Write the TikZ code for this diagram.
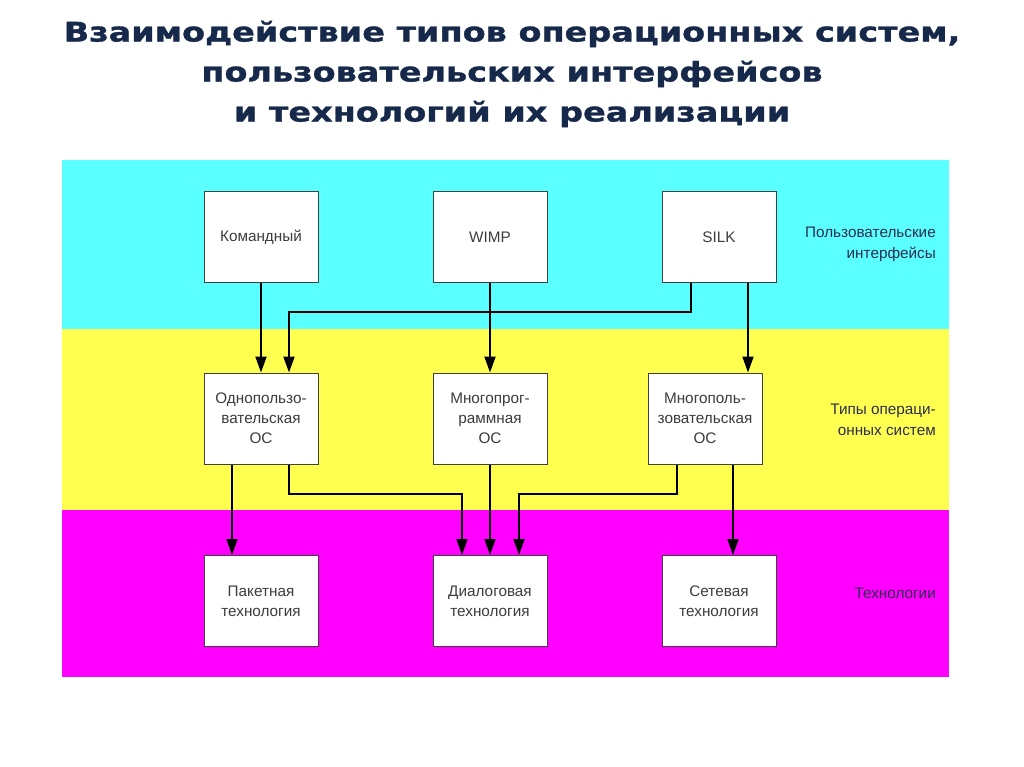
\documentclass[tikz,border=0pt]{standalone}
\usepackage{fontspec}
\setmainfont{Liberation Sans}
\newfontfamily\titlefont[FakeStretch=1.24,FakeBold=1.2]{DejaVu Sans}
\usetikzlibrary{arrows.meta}
\definecolor{uicyan}{RGB}{90,255,255}
\definecolor{osyellow}{RGB}{255,255,80}
\definecolor{techpink}{RGB}{255,0,255}
\definecolor{titleblue}{RGB}{23,41,74}
\definecolor{boxtext}{RGB}{60,60,60}
\definecolor{sidetext}{RGB}{45,45,80}
\begin{document}
\begin{tikzpicture}[x=1pt,y=-1pt,
  box/.style={draw=black!75,line width=1pt,fill=white,
    minimum width=114pt,minimum height=91pt,inner sep=2pt,
    align=center,text=boxtext,font=\fontsize{15.3}{20}\selectfont},
  side/.style={anchor=east,align=right,text=sidetext,inner sep=0pt,
    font=\fontsize{15.3}{21}\selectfont},
  arr/.style={line width=2pt,-{Triangle[length=16pt,width=11pt]}}]
  \useasboundingbox (0,0) rectangle (1024,767);

  % заголовок
  \node[align=center,text=titleblue,
    font=\titlefont\bfseries\fontsize{27}{40}\selectfont] (title) at (512,74)
    {Взаимодействие типов операционных систем,\\
     пользовательских интерфейсов\\
     и технологий их реализации};

  % полосы
  \fill[uicyan] (62,160) rectangle (949,329);
  \fill[osyellow] (62,329) rectangle (949,510);
  \fill[techpink] (62,510) rectangle (949,677);

  % интерфейсы
  \node[box] (cmd) at (261,237) {Командный};
  \node[box] (wimp) at (490,237) {WIMP};
  \node[box] (silk) at (719,237) {SILK};

  % типы ОС
  \node[box] (single) at (261,418.5) {Однопользо-\\вательская\\ОС};
  \node[box] (multiprog) at (490,418.5) {Многопрог-\\раммная\\ОС};
  \node[box] (multiuser) at (705,418.5) {Многополь-\\зовательская\\ОС};

  % технологии
  \node[box] (batch) at (261,601) {Пакетная\\технология};
  \node[box] (dialog) at (490,601) {Диалоговая\\технология};
  \node[box] (network) at (719,601) {Сетевая\\технология};

  % подписи справа
  \node[side] (uilabel) at (936,244) {Пользовательские\\интерфейсы};
  \node[side] (oslabel) at (936,420) {Типы операци-\\онных систем};
  \node[side] (techlabel) at (936,593) {Технологии};

  % связи
  \draw[arr] (cmd.south) -- (single.north);
  \draw[arr] ([xshift=-28pt]silk.south) -- ++(0,29) -| ([xshift=28pt]single.north);
  \draw[arr] (wimp.south) -- (multiprog.north);
  \draw[arr] ([xshift=29pt]silk.south) -- ([xshift=43pt]multiuser.north);

  \draw[arr] ([xshift=-29pt]single.south) -- ([xshift=-29pt]batch.north);
  \draw[arr] ([xshift=28pt]single.south) -- ++(0,29) -| ([xshift=-28pt]dialog.north);
  \draw[arr] (multiprog.south) -- (dialog.north);
  \draw[arr] ([xshift=-28pt]multiuser.south) -- ++(0,29) -| ([xshift=29pt]dialog.north);
  \draw[arr] ([xshift=28pt]multiuser.south) -- ([xshift=14pt]network.north);
\end{tikzpicture}
\end{document}
